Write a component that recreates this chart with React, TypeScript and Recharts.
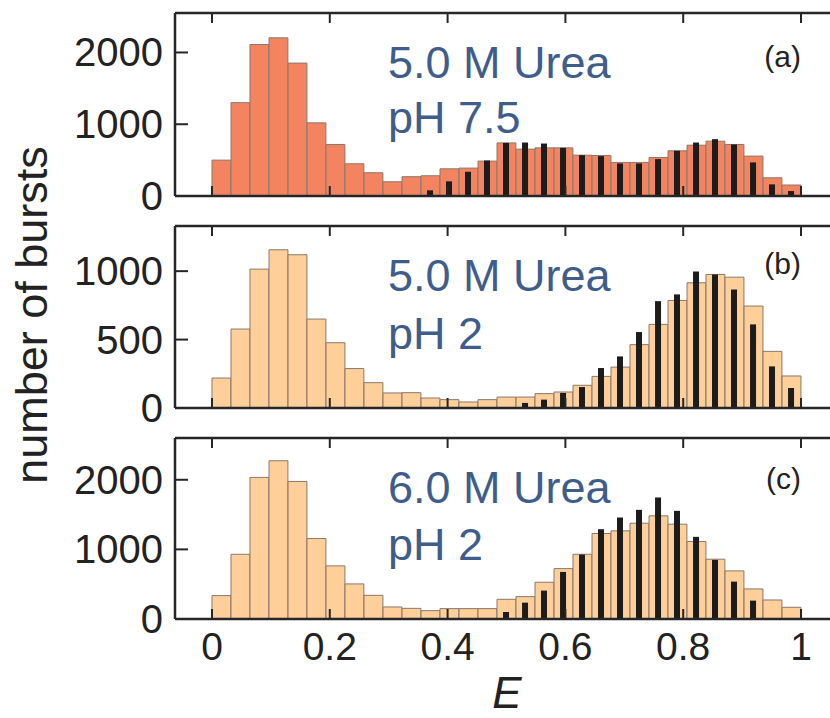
import { BarChart, Bar, XAxis, YAxis } from 'recharts'

// bin centres of the FRET efficiency histogram (31 bins over 0..1)
const binCenters = [
  0.0161, 0.0484, 0.0806, 0.1129, 0.1452, 0.1774, 0.2097, 0.2419, 0.2742, 0.3065, 0.3387,
  0.371, 0.4032, 0.4355, 0.4677, 0.5, 0.5323, 0.5645, 0.5968, 0.629, 0.6613, 0.6935,
  0.7258, 0.7581, 0.7903, 0.8226, 0.8548, 0.8871, 0.9194, 0.9516, 0.9839,
]

// (a) 5.0 M urea, pH 7.5
const measuredA = [
  500, 1301, 2111, 2204, 1852, 1019, 718, 449, 324, 199, 269, 282, 379, 389, 486, 740,
  653, 671, 671, 569, 565, 468, 468, 537, 630, 708, 764, 718, 556, 254, 153,
]
const simulatedA = [
  null, null, null, null, null, null, null, null, null, null, null, 79, 204, 338, 495, 740,
  745, 731, 671, 569, 556, 454, 454, 514, 630, 745, 792, 718, 468, 162, 69,
]

// (b) 5.0 M urea, pH 2
const measuredB = [
  219, 577, 1015, 1156, 1120, 650, 477, 288, 185, 110, 112, 73, 61, 44, 61, 80,
  80, 105, 117, 166, 231, 299, 463, 611, 786, 915, 976, 956, 745, 414, 234,
]
const simulatedB = [
  null, null, null, null, null, null, null, null, null, null, null, null, null, null, null, null,
  37, 61, 110, 153, 292, 377, 555, 781, 830, 998, 976, 866, 611, 304, 146,
]

// (c) 6.0 M urea, pH 2
const measuredC = [
  336, 930, 2034, 2273, 1976, 1156, 763, 504, 340, 173, 153, 120, 149, 149, 149, 283,
  321, 528, 724, 930, 1228, 1266, 1376, 1482, 1362, 1113, 859, 691, 432, 273, 168,
]
const simulatedC = [
  null, null, null, null, null, null, null, null, null, null, null, null, null, null, null, 101,
  235, 408, 676, 926, 1290, 1458, 1568, 1746, 1554, 1180, 849, 537, 264, null, null,
]

const xTicks = [0, 0.2, 0.4, 0.6, 0.8, 1]
const xTickLabels = ['0', '0.2', '0.4', '0.6', '0.8', '1']
const X_DOMAIN = [-0.0628, 1.0662]

const FONT = '"Liberation Sans", Arial, Helvetica, sans-serif'
const INK = '#262626'
const LABEL_BLUE = '#3f5d8c'
const SALMON = '#f3845f'
const PEACH = '#fecf98'
const EDGE = '#8a786c'
const DARK_BAR = '#1c1c1c'

function LeftTick({ x, y, payload }: any) {
  return (
    <g>
      <line x1={x} y1={y} x2={x + 13} y2={y} stroke={INK} strokeWidth={2} />
      <text x={x - 12} y={y + 14} textAnchor="end" fontSize={40} fontFamily={FONT} fill="#222">
        {payload.value}
      </text>
    </g>
  )
}

function RightTick({ x, y }: any) {
  return <line x1={x - 13} y1={y} x2={x} y2={y} stroke={INK} strokeWidth={2} />
}

function TopTick({ x, y }: any) {
  return <line x1={x} y1={y} x2={x} y2={y + 10} stroke={INK} strokeWidth={2} />
}

function BottomTick({ x, y }: any) {
  return <line x1={x} y1={y} x2={x} y2={y - 10} stroke={INK} strokeWidth={2} />
}

function BottomTickLabelled({ x, y, payload, index }: any) {
  return (
    <g>
      <line x1={x} y1={y} x2={x} y2={y - 10} stroke={INK} strokeWidth={2} />
      <text x={x} y={y + 41} textAnchor="middle" fontSize={39} fontFamily={FONT} fill="#222">
        {xTickLabels[index] ?? payload.value}
      </text>
    </g>
  )
}

interface PanelProps {
  top: number
  height: number
  bottomAxis: number
  measured: number[]
  simulated: (number | null)[]
  yMax: number
  yTicks: number[]
  fill: string
  line1: string
  line2: string
  line2Y: number
  tag: string
  tagY: number
  labelled?: boolean
  children?: any
}

function Panel({
  top, height, bottomAxis, measured, simulated, yMax, yTicks, fill,
  line1, line2, line2Y, tag, tagY, labelled, children,
}: PanelProps) {
  const data = binCenters.map((e, i) => ({ e, measured: measured[i], simulated: simulated[i] }))
  return (
    <div style={{ position: 'absolute', left: 0, top }}>
      <BarChart width={850} height={height} data={data} margin={{ top: 0, right: 0, bottom: 0, left: 0 }}>
        <XAxis
          xAxisId="bottom"
          dataKey="e"
          type="number"
          domain={X_DOMAIN}
          ticks={xTicks}
          interval={0}
          height={bottomAxis}
          tickSize={0}
          tickMargin={0}
          tickLine={false}
          axisLine={{ stroke: INK, strokeWidth: 2.5 }}
          tick={labelled ? BottomTickLabelled : BottomTick}
        />
        <XAxis
          xAxisId="top"
          orientation="top"
          dataKey="e"
          type="number"
          domain={X_DOMAIN}
          ticks={xTicks}
          interval={0}
          height={10}
          tickSize={0}
          tickMargin={0}
          tickLine={false}
          axisLine={{ stroke: INK, strokeWidth: 2.5 }}
          tick={TopTick}
        />
        <YAxis
          yAxisId="left"
          type="number"
          domain={[0, yMax]}
          ticks={yTicks}
          interval={0}
          width={175}
          tickSize={0}
          tickMargin={0}
          tickLine={false}
          axisLine={{ stroke: INK, strokeWidth: 2.5 }}
          tick={LeftTick}
        />
        <YAxis
          yAxisId="right"
          orientation="right"
          type="number"
          domain={[0, yMax]}
          ticks={yTicks}
          interval={0}
          width={10}
          tickSize={0}
          tickMargin={0}
          tickLine={false}
          axisLine={{ stroke: INK, strokeWidth: 2.5 }}
          tick={RightTick}
        />
        <Bar
          xAxisId="bottom"
          yAxisId="left"
          dataKey="measured"
          barSize={18.9}
          fill={fill}
          stroke={EDGE}
          strokeWidth={1}
          isAnimationActive={false}
        />
        <Bar
          xAxisId="top"
          yAxisId="left"
          dataKey="simulated"
          barSize={6}
          fill={DARK_BAR}
          isAnimationActive={false}
        />
        <text x={388} y={75} fontSize={45} fontFamily={FONT} fill={LABEL_BLUE}>{line1}</text>
        <text x={388} y={line2Y} fontSize={45} fontFamily={FONT} fill={LABEL_BLUE}>{line2}</text>
        <text x={801} y={tagY} textAnchor="end" fontSize={30} fontFamily={FONT} fill="#222">{tag}</text>
        {children}
      </BarChart>
    </div>
  )
}

export default function App() {
  return (
    <div style={{ position: 'absolute', left: 0, top: 0, width: 830, height: 718, overflow: 'hidden', background: '#fff' }}>
      <style>{'.recharts-surface, .recharts-wrapper { overflow: visible !important; }'}</style>
      <Panel
        top={3}
        height={203}
        bottomAxis={10}
        measured={measuredA}
        simulated={simulatedA}
        yMax={2550}
        yTicks={[0, 1000, 2000]}
        fill={SALMON}
        line1="5.0 M Urea"
        line2="pH 7.5"
        line2Y={130}
        tag="(a)"
        tagY={64}
      />
      <Panel
        top={216}
        height={202}
        bottomAxis={10}
        measured={measuredB}
        simulated={simulatedB}
        yMax={1330}
        yTicks={[0, 500, 1000]}
        fill={PEACH}
        line1="5.0 M Urea"
        line2="pH 2"
        line2Y={133}
        tag="(b)"
        tagY={58}
      >
        <text
          x={47}
          y={99}
          transform="rotate(-90 47 99)"
          textAnchor="middle"
          fontSize={45}
          fontFamily={FONT}
          fill="#222"
        >
          number of bursts
        </text>
      </Panel>
      <Panel
        top={428}
        height={290}
        bottomAxis={99}
        measured={measuredC}
        simulated={simulatedC}
        yMax={2600}
        yTicks={[0, 1000, 2000]}
        fill={PEACH}
        line1="6.0 M Urea"
        line2="pH 2"
        line2Y={132}
        tag="(c)"
        tagY={61}
        labelled
      >
        <text x={507} y={280} textAnchor="middle" fontSize={44} fontStyle="italic" fontFamily={FONT} fill="#222">
          E
        </text>
      </Panel>
    </div>
  )
}
